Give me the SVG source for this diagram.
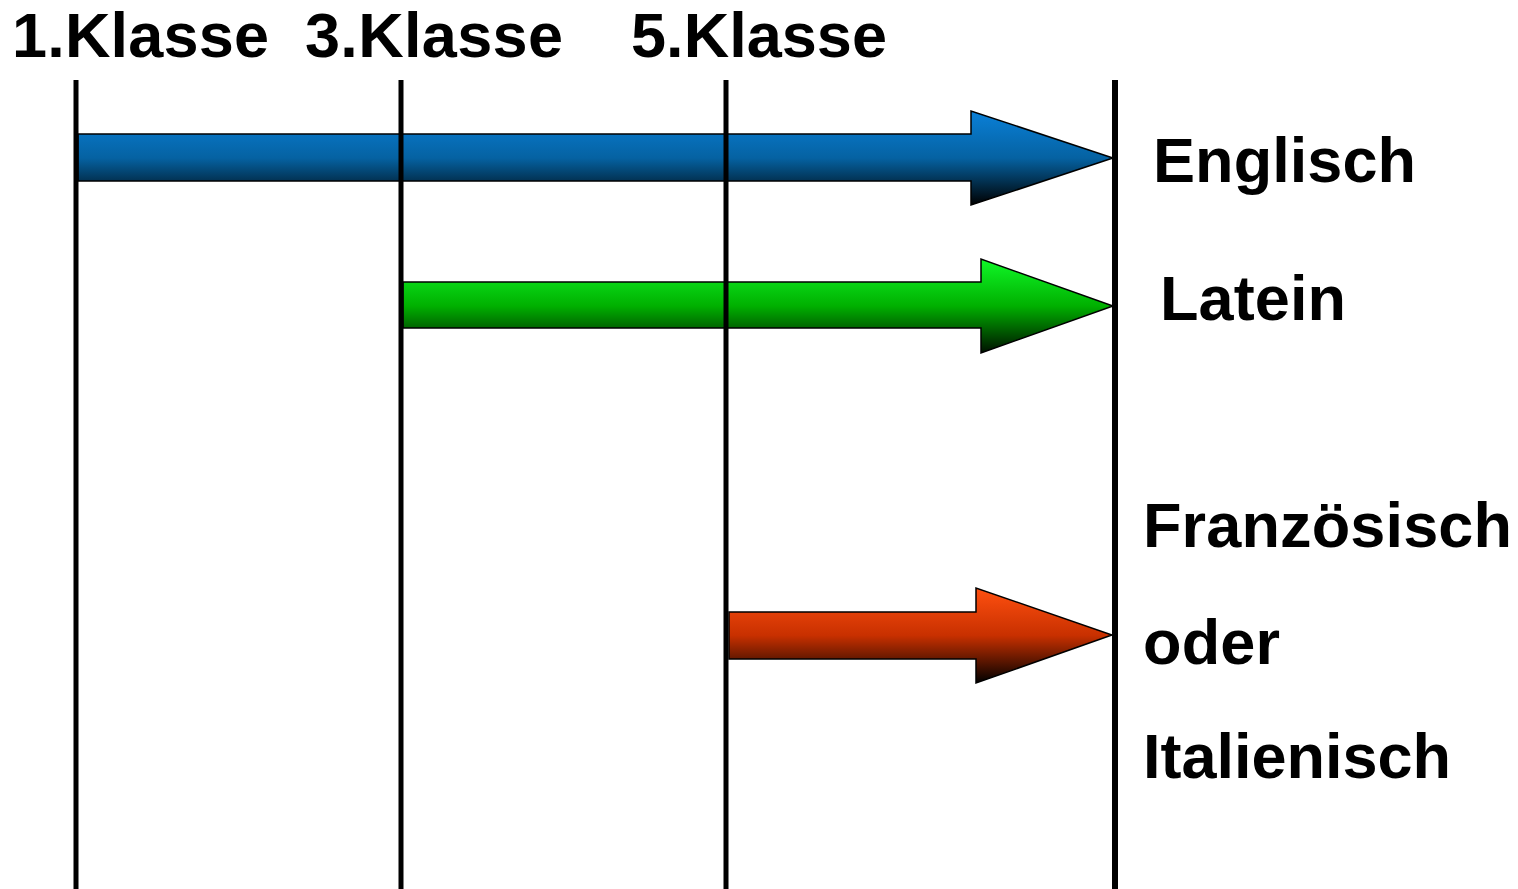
<svg xmlns="http://www.w3.org/2000/svg" width="1518" height="889" viewBox="0 0 1518 889">
  <style>
    .lbl { font-family: "Liberation Sans", Arial, sans-serif; font-weight: bold; font-size: 63px; fill: #000; }
    .arrow { stroke: #000; stroke-width: 1.5; stroke-linejoin: miter; }
    .vline { stroke: #000; stroke-width: 5; fill: none; }
  </style>
  <defs>
    <linearGradient id="gBlue" x1="0" y1="0" x2="0" y2="1">
      <stop offset="0" stop-color="#0a80d8"/>
      <stop offset="0.5" stop-color="#0562a2"/>
      <stop offset="1" stop-color="#000000"/>
    </linearGradient>
    <linearGradient id="gGreen" x1="0" y1="0" x2="0" y2="1">
      <stop offset="0" stop-color="#10f828"/>
      <stop offset="0.5" stop-color="#00b000"/>
      <stop offset="1" stop-color="#001000"/>
    </linearGradient>
    <linearGradient id="gRed" x1="0" y1="0" x2="0" y2="1">
      <stop offset="0" stop-color="#ff5010"/>
      <stop offset="0.5" stop-color="#c83000"/>
      <stop offset="1" stop-color="#000000"/>
    </linearGradient>
  </defs>
  <rect width="1518" height="889" fill="#fff"/>

  <g id="arrow-englisch">
    <polygon class="arrow" fill="url(#gBlue)" points="78,134 971,134 971,111 1113,158 971,205 971,181 78,181"/>
  </g>
  <g id="arrow-latein">
    <polygon class="arrow" fill="url(#gGreen)" points="403,282 981,282 981,259 1113,306 981,353 981,328 403,328"/>
  </g>
  <g id="arrow-franzoesisch">
    <polygon class="arrow" fill="url(#gRed)" points="729,612 976,612 976,588 1112,635 976,683 976,659 729,659"/>
  </g>

  <g id="connectors">
    <line class="vline" x1="76" y1="80" x2="76" y2="889"/>
    <line class="vline" x1="401" y1="80" x2="401" y2="889"/>
    <line class="vline" x1="726" y1="80" x2="726" y2="889"/>
    <line class="vline" x1="1115" y1="80" x2="1115" y2="889" style="stroke-width:6"/>
  </g>

  <g id="label-klasse1"><text class="lbl" x="12" y="57" textLength="257" lengthAdjust="spacing">1.Klasse</text></g>
  <g id="label-klasse3"><text class="lbl" x="305" y="57" textLength="258" lengthAdjust="spacing">3.Klasse</text></g>
  <g id="label-klasse5"><text class="lbl" x="631" y="57" textLength="256" lengthAdjust="spacing">5.Klasse</text></g>
  <g id="label-englisch"><text class="lbl" x="1153" y="182" textLength="263" lengthAdjust="spacing">Englisch</text></g>
  <g id="label-latein"><text class="lbl" x="1160" y="320" textLength="186" lengthAdjust="spacing">Latein</text></g>
  <g id="label-franz">
    <text class="lbl" x="1143" y="547" textLength="369" lengthAdjust="spacing">Französisch</text>
    <text class="lbl" x="1143" y="664" textLength="137" lengthAdjust="spacing">oder</text>
    <text class="lbl" x="1143" y="778" textLength="308" lengthAdjust="spacing">Italienisch</text>
  </g>
</svg>
